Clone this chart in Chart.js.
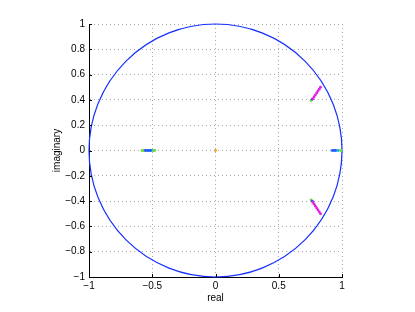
<!DOCTYPE html>
<html>
<head>
<meta charset="utf-8">
<script src="https://cdn.jsdelivr.net/npm/chart.js@4"></script>
<style>
  html, body { margin: 0; padding: 0; background: #fff; }
  #wrap { width: 415px; height: 312px; }
</style>
</head>
<body>
<div id="wrap"><canvas id="myChart"></canvas></div>
<script>
// pole locations
const magentaX = [0.77, 0.78, 0.79, 0.80, 0.81, 0.82, 0.83, 0.77, 0.78, 0.79, 0.80, 0.81, 0.82, 0.83];
const magentaY = [0.41, 0.425, 0.44, 0.455, 0.47, 0.485, 0.50, -0.41, -0.425, -0.44, -0.455, -0.47, -0.485, -0.50];
const greenX = [0.755, 0.755, -0.58, -0.57, -0.49, -0.48, 0.99, 1.0];
const greenY = [0.395, -0.39, 0, 0, 0, 0, 0, 0];
const blueX = [0.765, 0.765, -0.555, -0.535, -0.515, 0.93, 0.945];
const blueY = [0.405, -0.40, 0, 0, 0, 0, 0];
const cyanX = [-0.545, -0.525, -0.505, 0.92, 0.955, 0.97];
const cyanY = [0, 0, 0, 0, 0, 0];
const orangeX = [0];
const orangeY = [0];

const xTicks = [-1, -0.5, 0, 0.5, 1];
const yTicks = [-1, -0.8, -0.6, -0.4, -0.2, 0, 0.2, 0.4, 0.6, 0.8, 1];
const circleRadius = 1;

function pts(xs, ys) {
  return xs.map((x, i) => ({ x: x, y: ys[i] }));
}

function fmt(v) {
  const s = String(Math.round(v * 10) / 10);
  return s.replace("-", "\u2212");
}

const unitCircle = {
  id: "unitCircle",
  beforeDatasetsDraw(chart) {
    const { ctx, scales } = chart;
    const cx = scales.x.getPixelForValue(0);
    const cy = scales.y.getPixelForValue(0);
    const rx = scales.x.getPixelForValue(circleRadius) - cx;
    const ry = cy - scales.y.getPixelForValue(circleRadius);
    ctx.save();
    ctx.strokeStyle = "#1530ff";
    ctx.lineWidth = 1.2;
    ctx.beginPath();
    ctx.ellipse(cx, cy, rx, ry, 0, 0, Math.PI * 2);
    ctx.stroke();
    ctx.restore();
  },
  afterDraw(chart) {
    // inward tick marks, matlab style
    const { ctx, scales, chartArea } = chart;
    ctx.save();
    ctx.strokeStyle = "#000";
    ctx.lineWidth = 1;
    ctx.beginPath();
    xTicks.forEach((t) => {
      const px = Math.round(scales.x.getPixelForValue(t)) + 0.5;
      ctx.moveTo(px, chartArea.bottom);
      ctx.lineTo(px, chartArea.bottom - 3);
    });
    yTicks.forEach((t) => {
      const py = Math.round(scales.y.getPixelForValue(t)) + 0.5;
      ctx.moveTo(chartArea.left, py);
      ctx.lineTo(chartArea.left + 3, py);
    });
    ctx.stroke();
    ctx.restore();
  },
};

function ds(label, xs, ys, color) {
  return {
    label: label,
    data: pts(xs, ys),
    backgroundColor: color,
    borderColor: color,
    pointRadius: 1.4,
    pointBorderWidth: 0,
  };
}

const ctx = document.getElementById("myChart");
new Chart(ctx, {
  type: "scatter",
  data: {
    datasets: [
      ds("magenta", magentaX, magentaY, "#e020e0"),
      ds("blue", blueX, blueY, "#3050ff"),
      ds("cyan", cyanX, cyanY, "#20b0e0"),
      ds("green", greenX, greenY, "#70e030"),
      ds("orange", orangeX, orangeY, "#f0a020"),
    ],
  },
  options: {
    responsive: true,
    maintainAspectRatio: false,
    animation: false,
    layout: { padding: { left: 51, top: 24, right: 73, bottom: 8 } },
    plugins: {
      legend: { display: false },
      tooltip: { enabled: false },
    },
    scales: {
      x: {
        type: "linear",
        min: -1,
        max: 1,
        afterBuildTicks: (s) => { s.ticks = xTicks.map((v) => ({ value: v })); },
        afterFit: (s) => { s.height = 27; },
        grid: {
          color: "#a8a8a8",
          lineWidth: 1,
          drawTicks: false,
        },
        border: { display: true, color: "#000", width: 1, dash: [1, 3] },
        ticks: {
          color: "#000",
          padding: 3,
          maxRotation: 0,
          font: { family: "Liberation Sans", size: 10 },
          callback: (v) => fmt(v),
        },
        title: {
          display: true,
          text: "real",
          color: "#000",
          padding: { top: 2, bottom: 0 },
          font: { family: "Liberation Sans", size: 10 },
        },
      },
      y: {
        type: "linear",
        min: -1,
        max: 1,
        afterBuildTicks: (s) => { s.ticks = yTicks.map((v) => ({ value: v })); },
        afterFit: (s) => { s.width = 38; },
        grid: {
          color: "#a8a8a8",
          lineWidth: 1,
          drawTicks: false,
        },
        border: { display: true, color: "#000", width: 1, dash: [1, 3] },
        ticks: {
          color: "#000",
          padding: 4,
          font: { family: "Liberation Sans", size: 10 },
          callback: (v) => fmt(v),
        },
        title: {
          display: true,
          text: "imaginary",
          color: "#000",
          padding: { top: 0, bottom: 0 },
          font: { family: "Liberation Sans", size: 10 },
        },
      },
    },
  },
  plugins: [unitCircle],
});
</script>
</body>
</html>
